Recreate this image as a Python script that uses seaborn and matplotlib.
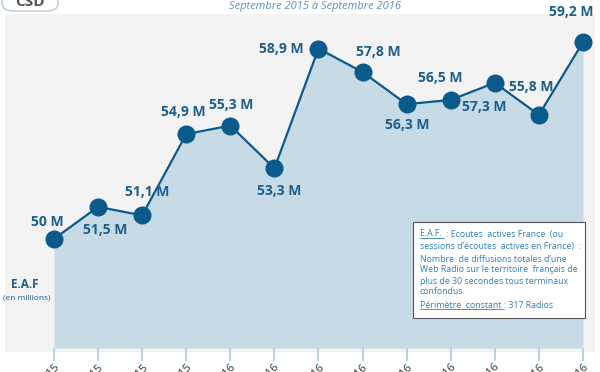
import matplotlib
matplotlib.use("Agg")
import matplotlib.pyplot as plt
import seaborn as sns
import pandas as pd
from matplotlib.patches import FancyBboxPatch, Rectangle

months = ["sept.-2015", "oct.-15", "nov.-15", "déc.-15", "janv.-16", "févr.-16", "mars-16",
          "avr.-16", "mai-16", "juin-16", "juil.-16", "août-16", "sept.-16"]
values = [50.0, 51.5, 51.1, 54.9, 55.3, 53.3, 58.9, 57.8, 56.3, 56.5, 57.3, 55.8, 59.2]
labels = ["50 M", "51,5 M", "51,1 M", "54,9 M", "55,3 M", "53,3 M", "58,9 M",
          "57,8 M", "56,3 M", "56,5 M", "57,3 M", "55,8 M", "59,2 M"]

sns.set_theme(style="white")
plt.rcParams['font.family'] = ['Open Sans', 'DejaVu Sans']

DARK = "#0b5a8c"
FILL = "#c5dae6"
TICK = "#a9c9df"

fig = plt.figure(figsize=(6.0, 3.72), dpi=100)
fig.patch.set_facecolor("white")
# background panel
fig.patches.append(Rectangle((5/600, (372-352)/372), 590/600, 338/372, transform=fig.transFigure,
                             facecolor="#f3f3f3", edgecolor="none", zorder=-1))
ax = fig.add_axes([0, 24/372, 1, 333/372])
ax.set_zorder(1)
ax.patch.set_alpha(0)

df = pd.DataFrame({"x": range(len(values)), "v": values})
ax.fill_between(df["x"], values, 44.9, color=FILL, alpha=0.95, zorder=1, linewidth=0)
sns.lineplot(data=df, x="x", y="v", ax=ax, color=DARK, linewidth=1.6, marker="o",
             markersize=13, markeredgewidth=0, markerfacecolor=DARK, zorder=3)

ax.set_xlim(-54/44.1, 12 + 17/44.1)
ax.set_ylim(44.9, 60.47)
for s in ax.spines.values():
    s.set_visible(False)
ax.set_yticks([])
ax.set_xticks(range(len(months)))
ax.set_xticklabels(months, rotation=45, ha="right", va="top", fontsize=8, color="#333333",
                   rotation_mode="anchor")
ax.tick_params(axis="x", direction="out", length=9, width=1.2, color=TICK, pad=1, bottom=True)
ax.set_xlabel("")
ax.set_ylabel("")

offsets = [(-7, 17), (7, -23), (5, 23), (-3, 22), (1, 21), (5, -23), (-37, 0),
           (16, 20), (1, -21), (-10, 22), (-11, -24), (-8, 28), (-12, 30)]
for i, (v, lab) in enumerate(zip(values, labels)):
    dx, dy = offsets[i]
    ax.annotate(lab, (i, v), xytext=(dx, dy), textcoords="offset pixels", ha="center",
                va="center", fontsize=10, fontweight="bold", color="#1b5f8f", zorder=5,
                annotation_clip=False)

# E.A.F label
fig.text(25/600, 1 - 285/372, "E.A.F", ha="center", va="center", fontsize=8.5,
         fontweight="bold", color="#1b5f8f")
fig.text(27/600, 1 - 298/372, "(en millions)", ha="center", va="center", fontsize=6,
         color="#1b5f8f")

# title
fig.text(315/600, 1 - 6/372, "Septembre 2015 à Septembre 2016", ha="center", va="center",
         fontsize=8, style="italic", color="#5b8fc7")

# logo (partially cut)
fig.patches.append(FancyBboxPatch((2/600, 1 - 11/372), 56/600, 30/372, transform=fig.transFigure,
                                  boxstyle="round,pad=0,rounding_size=0.02", facecolor="white",
                                  edgecolor="#b8c6d6", linewidth=1.0, zorder=2))
fig.text(30/600, 1 - 2/372, "CSD", ha="center", va="center", fontsize=11, fontweight="bold",
         color="#555555", zorder=3)

# info box
fig.patches.append(Rectangle((413/600, 1 - 318/372), 172/600, 96/372, transform=fig.transFigure,
                             facecolor="white", edgecolor="#555555", linewidth=0.8, zorder=4))
BOXC = "#2f7fb5"
x0 = 420/600
lines = [
    ("E.A.F. ", " : Ecoutes  actives France  (ou"),
    (None, "sessions d’écoutes  actives en France)  :"),
    (None, "Nombre  de diffusions totales d’une"),
    (None, "Web Radio sur le territoire  français de"),
    (None, "plus de 30 secondes tous terminaux"),
    (None, "confondus."),
]
ys = [234, 247, 259, 270, 282, 292]
fig.canvas.draw()
renderer = fig.canvas.get_renderer()

def underlined(x, y, s):
    t = fig.text(x, y, s, ha="left", va="center", fontsize=6.3, color=BOXC, zorder=5)
    bb = t.get_window_extent(renderer=renderer)
    x1 = bb.x1 / fig.bbox.width
    xb = bb.x0 / fig.bbox.width
    yb = (bb.y0 + 1) / fig.bbox.height
    fig.lines.append(plt.Line2D([xb, x1], [yb, yb], transform=fig.transFigure, color=BOXC,
                                linewidth=0.6, zorder=5))
    return x1

for (u, rest), yy in zip(lines, ys):
    y = 1 - yy/372
    if u:
        x1 = underlined(x0, y, u)
        fig.text(x1, y, rest, ha="left", va="center", fontsize=6.3, color=BOXC, zorder=5)
    else:
        fig.text(x0, y, rest, ha="left", va="center", fontsize=6.3, color=BOXC, zorder=5)
y = 1 - 305/372
x1 = underlined(x0, y, "Périmètre  constant ")
fig.text(x1, y, ": 317 Radios", ha="left", va="center", fontsize=6.3, color=BOXC, zorder=5)

fig.savefig("out.png", dpi=100)
